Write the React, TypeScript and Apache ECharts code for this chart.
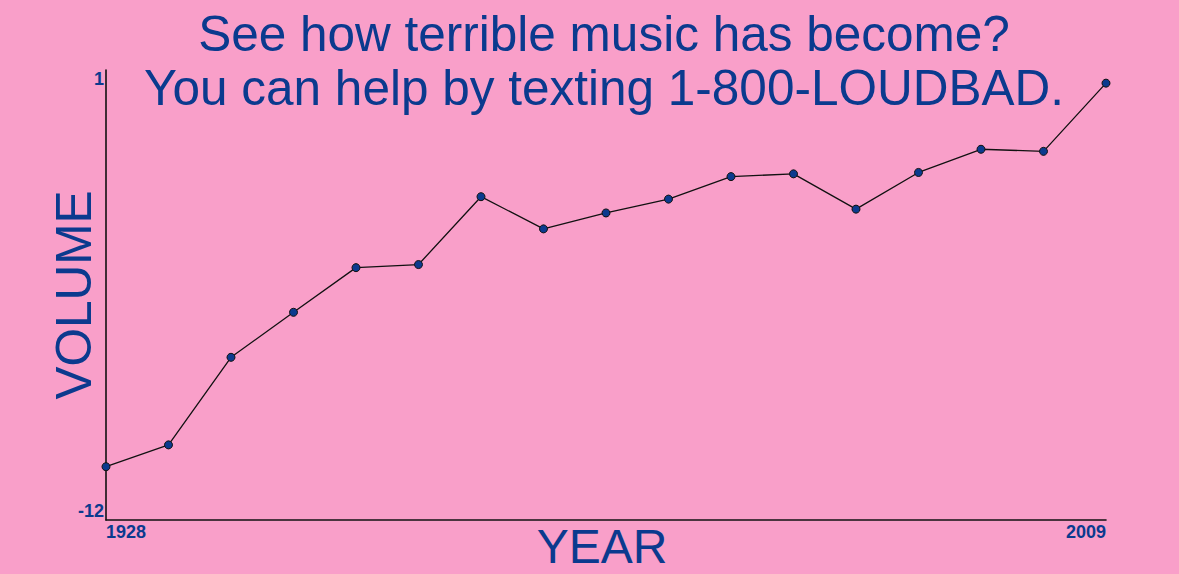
import React, { useEffect, useRef } from "react";
import * as echarts from "echarts";

const titleLines = ["See how terrible music has become?", "You can help by texting 1-800-LOUDBAD."];
const years = ["1928", "1933", "1938", "1943", "1948", "1953", "1958", "1963", "1968", "1973", "1978", "1983", "1988", "1993", "1998", "2003", "2009"];
const volume = [-10.46, -9.83, -7.3, -6.0, -4.71, -4.62, -2.66, -3.59, -3.13, -2.73, -2.08, -2.0, -3.02, -1.96, -1.29, -1.35, 0.62];
const yMin = -12;
const yMax = 1;

const BLUE = "#0b3a8e";
const PINK = "#f99fc9";
const FONT = "'Liberation Sans', Arial, Helvetica, sans-serif";

export default function App() {
  const ref = useRef<HTMLDivElement>(null);
  useEffect(() => {
    document.body.style.margin = "0";
    document.body.style.background = PINK;
    const chart = echarts.init(ref.current!, undefined, { renderer: "svg" });
    chart.setOption({
      animation: false,
      backgroundColor: PINK,
      textStyle: { fontFamily: FONT },
      title: {
        text: titleLines.join("\n"),
        left: 599,
        top: 1,
        textAlign: "center",
        textStyle: { color: BLUE, fontSize: 49.5, fontWeight: "normal", lineHeight: 54, fontFamily: FONT },
      },
      grid: { left: 106, right: 73, top: 70, bottom: 54, containLabel: false, outerBoundsMode: "none" },
      xAxis: {
        type: "category",
        data: years,
        boundaryGap: false,
        name: "YEAR",
        nameLocation: "middle",
        nameGap: 2,
        nameMoveOverlap: false,
        nameTextStyle: { color: BLUE, fontSize: 48, fontFamily: FONT, verticalAlign: "top", padding: [0, 8, 0, 0] },
        axisLine: { onZero: false, lineStyle: { color: "#111", width: 1.6 } },
        axisTick: { show: false },
        splitLine: { show: false },
        axisLabel: {
          interval: (i: number) => i === 0 || i === years.length - 1,
          color: BLUE,
          fontSize: 18,
          fontWeight: "bold",
          fontFamily: FONT,
          margin: 3,
          alignMinLabel: "left",
          alignMaxLabel: "right",
        },
      },
      yAxis: {
        type: "value",
        min: yMin,
        max: yMax,
        interval: yMax - yMin,
        name: "VOLUME",
        nameLocation: "middle",
        nameRotate: 90,
        nameGap: 8,
        nameMoveOverlap: false,
        nameTextStyle: { color: BLUE, fontSize: 49.5, fontFamily: FONT },
        axisLine: { show: true, onZero: false, lineStyle: { color: "#111", width: 1.6 } },
        axisTick: { show: false },
        splitLine: { show: false },
        axisLabel: {
          color: BLUE,
          fontSize: 18,
          fontWeight: "bold",
          fontFamily: FONT,
          margin: 2,
          verticalAlignMinLabel: "bottom",
          verticalAlignMaxLabel: "top",
        },
      },
      series: [
        {
          type: "line",
          data: volume,
          symbol: "circle",
          symbolSize: 8,
          lineStyle: { color: "#111", width: 1.3 },
          itemStyle: { color: BLUE, borderColor: "#111", borderWidth: 1 },
        },
      ],
    });
    return () => chart.dispose();
  }, []);
  return <div ref={ref} style={{ width: 1179, height: 574 }} />;
}
